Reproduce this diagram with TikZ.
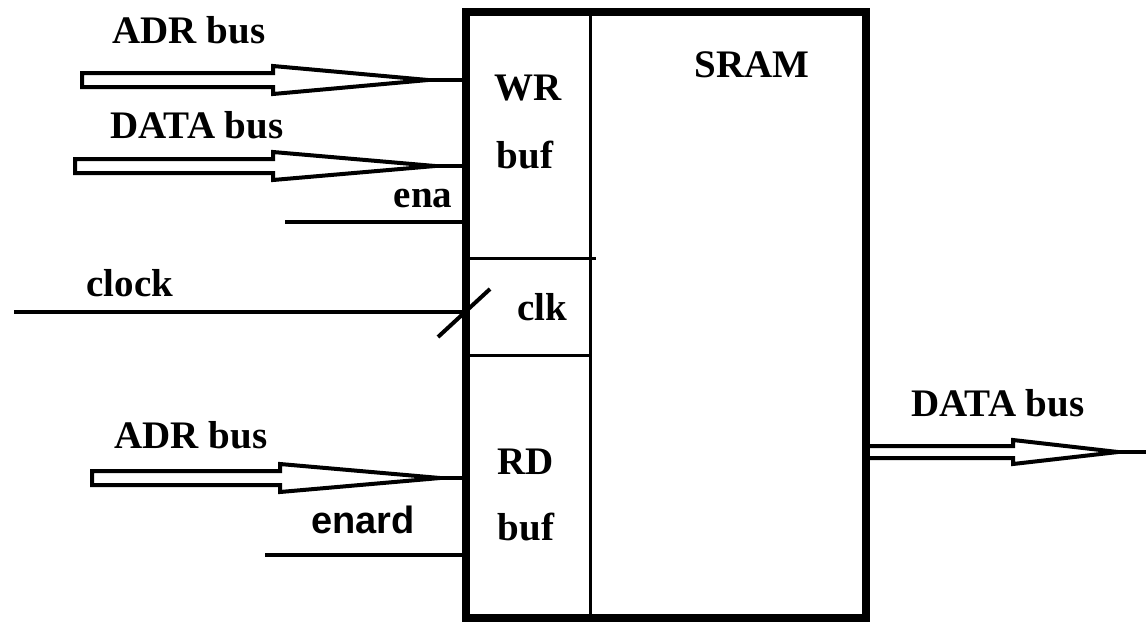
\documentclass[tikz,border=0pt]{standalone}
\usepackage{fontspec}
\setmainfont{Liberation Serif}
\newfontfamily\labsans{Liberation Sans}
\usetikzlibrary{calc}
\begin{document}
\begin{tikzpicture}[x=1pt,y=-1pt,
  lab/.style={font=\fontsize{39}{40}\selectfont\bfseries, inner sep=0pt},
  labs/.style={font=\labsans\fontsize{38}{40}\selectfont\bfseries, inner sep=0pt},
  wire/.style={line width=4pt},
  thin/.style={line width=3pt},
  bus/.style={line width=4pt, line join=miter, fill=white}]
\useasboundingbox (0,0) rectangle (1146,622);
% main block
\node[draw, line width=8pt, minimum width=400pt, minimum height=606pt, inner sep=0pt] (sram) at (666,315) {};
\coordinate (div) at (590,12);
\draw[thin] (div) -- (div |- sram.south);
\draw[thin] (466,258) coordinate (h1) -- (596,258);
\draw[thin] (466,355) coordinate (h2) -- (590,355);
% texts inside
\node[lab] (tsram) at (752,65) {SRAM};
\node[lab] (twr) at (528,88) {WR};
\node[lab] (tbuf1) at (525,155) {buf};
\node[lab] (tclk) at (542,307) {clk};
\node[lab] (trd) at (526,462) {RD};
\node[lab] (tbuf2) at (526,527) {buf};
% input labels
\node[lab] (ladr1) at (189,30) {ADR bus};
\node[lab] (ldata1) at (197,125) {DATA bus};
\node[lab] (lena) at (423,198) {ena};
\node[lab] (lclock) at (130,283) {clock};
\node[lab] (ladr2) at (191,435) {ADR bus};
\node[labs] (lenard) at (363,520) {enard};
\node[lab] (ldata2) at (998,403) {DATA bus};
% ADR bus (top)
\coordinate (adr1) at (82,80);
\draw[wire] ($(adr1)+(330,0)$) -- (adr1 -| sram.west);
\draw[bus] ($(adr1)+(0,-7)$) -- ++(191,0) -- ++(0,-7) -- ++(155,14) -- ++(-155,14) -- ++(0,-7) -- ++(-191,0) -- cycle;
% DATA bus (top)
\coordinate (data1) at (75,166);
\draw[wire] ($(data1)+(340,0)$) -- (data1 -| sram.west);
\draw[bus] ($(data1)+(0,-7)$) -- ++(198,0) -- ++(0,-7) -- ++(162,14) -- ++(-162,14) -- ++(0,-7) -- ++(-198,0) -- cycle;
% ena
\coordinate (ena) at (285,222);
\draw[wire] (ena) -- (ena -| sram.west);
% clock
\coordinate (clock) at (14,312);
\draw[wire] (clock) -- (clock -| sram.west);
\coordinate (slash) at (464,313);
\draw[wire] ($(slash)+(-26,24)$) -- ($(slash)+(26,-24)$);
% ADR bus (bottom)
\coordinate (adr2) at (92,478);
\draw[wire] ($(adr2)+(335,0)$) -- (adr2 -| sram.west);
\draw[bus] ($(adr2)+(0,-7)$) -- ++(188,0) -- ++(0,-7) -- ++(160,14) -- ++(-160,14) -- ++(0,-7) -- ++(-188,0) -- cycle;
% enard
\coordinate (enard) at (265,555);
\draw[wire] (enard) -- (enard -| sram.west);
% DATA bus out
\coordinate (dout) at (1146,452);
\draw[wire] ($(dout)+(-40,0)$) -- (dout);
\draw[bus] ($(sram.east |- dout)+(0,-6)$) -- (1013,446) -- (1013,440) -- (1118,452) -- (1013,464) -- (1013,458) -- ($(sram.east |- dout)+(0,6)$);
\end{tikzpicture}
\end{document}
